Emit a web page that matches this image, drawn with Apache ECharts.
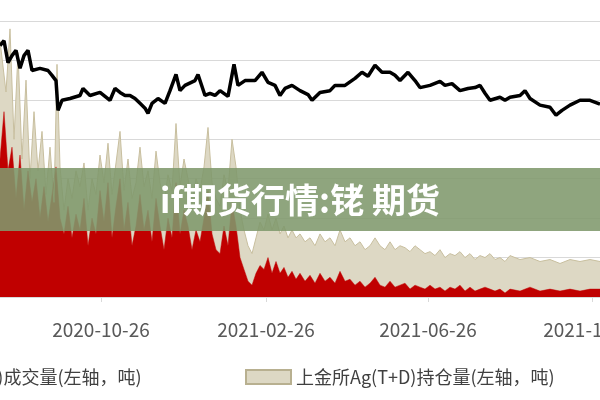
<!DOCTYPE html>
<html>
<head>
<meta charset="UTF-8">
<title>if期货行情</title>
<script src="https://cdn.jsdelivr.net/npm/echarts@6/dist/echarts.min.js"></script>
<style>html,body{margin:0;padding:0;background:#fff;}#main{width:600px;height:400px;}</style>
</head>
<body>
<div id="main"></div>
<script type="text/javascript">
// x = 交易日位置, 刻度标签
var tickPos = [101, 266, 428, 592];
var tickLabels = ['2020-10-26', '2021-02-26', '2021-06-26', '2021-10-26'];

// 持仓量 (吨)
var holdX = [0,6,10,14,18,22,26,30,34,38,42,46,50,54,57,60,64,68,72,76,80,84,88,92,96,100,104,108,112,116,120,124,128,132,136,140,144,148,152,156,160,164,168,172,176,180,184,188,192,196,200,204,208,212,216,220,224,228,232,236,240,244,248,252,256,260,264,268,272,276,280,284,288,292,296,300,305,310,315,320,325,330,335,340,345,350,355,360,365,370,375,380,385,390,395,400,405,410,415,420,425,430,435,440,445,450,455,460,465,470,475,480,485,490,495,500,505,510,520,530,540,550,560,570,580,590,600];
var holdV = [6500,5200,6800,4000,6200,3500,5500,3000,4700,3200,4200,2600,3800,2400,5900,3300,2200,3000,2500,3200,2800,3400,2200,3000,2600,3600,2900,3900,2600,3400,4200,2700,3500,2500,2900,3800,2800,3200,2500,3700,2900,2400,3100,2700,4400,2800,3500,3000,2400,3000,2700,3300,4300,2900,2500,2300,3100,2700,4000,3300,2200,1700,1300,1100,1500,1900,1700,2100,1700,2000,1600,1800,1500,1700,1500,1600,1400,1500,1300,1600,1400,1500,1300,1700,1400,1500,1300,1400,1200,1300,1500,1300,1200,1400,1200,1300,1250,1150,1300,1200,1100,1150,1050,1200,1000,1100,1050,1150,1000,1100,950,1050,1000,1100,950,1000,900,1050,950,1000,900,950,850,950,900,950,900];

// 成交量 (吨)
var volX = [0,4,8,12,16,20,24,28,32,36,40,44,48,52,56,60,64,68,72,76,80,84,88,92,96,100,104,108,112,116,120,124,128,132,136,140,144,148,152,156,160,164,168,172,176,180,184,188,192,196,200,204,208,212,216,220,224,228,232,236,240,244,248,252,256,260,264,268,272,276,280,284,288,292,296,300,305,310,315,320,325,330,335,340,345,350,355,360,365,370,375,380,385,390,395,400,405,410,415,420,425,430,435,440,445,450,455,460,465,470,475,480,485,490,495,500,505,510,520,530,540,550,560,570,580,590,600];
var volV = [3500,4700,3200,3800,2500,3600,2200,3200,2400,3000,2000,2800,1900,2600,3300,2000,1600,2300,1500,2100,1700,2500,1300,2000,1600,2700,1900,2900,1500,2300,3000,1700,2400,1300,1800,2600,1700,2200,1400,2500,1800,1200,2000,1500,2900,1600,2200,1800,1200,1700,1400,2000,2700,1600,1200,1100,1800,1300,2400,1800,1000,700,400,300,600,800,700,1000,600,900,600,750,500,650,450,600,400,550,350,600,400,500,350,650,400,450,300,400,250,350,500,300,250,400,250,300,350,200,300,250,200,300,200,250,150,250,200,300,150,250,150,200,250,200,150,200,100,200,150,250,150,200,150,200,150,200,200];

// Ag(T+D) 收盘价 (元/千克, 右轴)
var priceX = [0,4,8,12,16,20,24,28,32,40,48,52,56,58,62,70,80,83,90,100,105,110,115,120,125,130,135,140,145,148,152,158,165,170,176,180,185,195,198,205,210,215,220,228,234,238,245,255,262,268,275,280,285,292,300,308,312,320,330,335,345,355,362,368,375,382,390,395,400,408,415,420,430,440,445,452,460,468,475,480,485,490,500,505,510,520,525,530,540,550,556,562,570,580,590,600];
var priceV = [6940,7050,6550,6710,6830,6420,6710,6830,6370,6420,6370,6260,6140,5460,5690,5730,5800,5960,5800,5870,5780,5690,5960,5870,5800,5800,5730,5620,5510,5390,5620,5730,5620,5910,6280,5910,6030,6140,6280,5800,5850,5800,5910,5780,6510,6030,6140,6140,6330,6100,6030,5800,5960,6030,5910,5820,5690,5870,5910,6030,6030,6190,6330,6240,6490,6330,6330,6260,6140,6330,6140,5980,6030,6120,6030,6070,5910,5960,5980,6030,5850,5690,5760,5690,5760,5800,5910,5730,5580,5530,5350,5460,5580,5690,5690,5600];

function pairs(xs, vs) {
    var out = [];
    for (var i = 0; i < xs.length; i++) out.push([xs[i], vs[i]]);
    return out;
}

var chart = echarts.init(document.getElementById('main'));
var option = {
    animation: false,
    textStyle: {fontFamily: 'Noto Sans CJK SC'},
    grid: {left: 0, right: 0, top: 21, bottom: 103, containLabel: false, outerBoundsMode: 'none'},
    legend: [
        {left: -172, top: 363, icon: 'rect', itemWidth: 45, itemHeight: 14, itemGap: 6,
         textStyle: {fontSize: 18, color: '#404040'}, data: ['上金所Ag(T+D)成交量(左轴，吨)']},
        {left: 240, top: 363, icon: 'rect', itemWidth: 45, itemHeight: 14, itemGap: 6,
         textStyle: {fontSize: 18, color: '#404040'}, data: ['上金所Ag(T+D)持仓量(左轴，吨)']}
    ],
    xAxis: {
        type: 'value', min: 0, max: 600,
        axisLine: {lineStyle: {color: '#d9d9d9'}},
        axisTick: {show: true, customValues: tickPos, length: 5, lineStyle: {color: '#d9d9d9'}},
        axisLabel: {
            customValues: tickPos, fontSize: 19, color: '#595959', margin: 23, hideOverlap: false,
            formatter: function (v) { return tickLabels[tickPos.indexOf(v)]; }
        },
        splitLine: {show: false}
    },
    yAxis: [
        {type: 'value', min: 0, max: 7000, interval: 1000, axisLabel: {show: false},
         axisLine: {show: false}, axisTick: {show: false},
         splitLine: {lineStyle: {color: '#d9d9d9'}}},
        {type: 'value', min: 1200, max: 7500, axisLabel: {show: false},
         axisLine: {show: false}, axisTick: {show: false}, splitLine: {show: false}}
    ],
    series: [
        {name: '上金所Ag(T+D)持仓量(左轴，吨)', type: 'line', data: pairs(holdX, holdV),
         symbol: 'none', lineStyle: {width: 1, color: '#c8bf9f'}, itemStyle: {color: '#ddd8c4', borderColor: '#b8b090', borderWidth: 1},
         areaStyle: {color: '#ddd8c4', opacity: 1}},
        {name: '上金所Ag(T+D)成交量(左轴，吨)', type: 'line', data: pairs(volX, volV),
         symbol: 'none', lineStyle: {width: 0.5, color: '#c00000'}, itemStyle: {color: '#c00000'},
         areaStyle: {color: '#c00000', opacity: 1}},
        {name: 'Ag(T+D)收盘价', type: 'line', yAxisIndex: 1, data: pairs(priceX, priceV),
         symbol: 'none', lineStyle: {width: 3.5, color: '#000'}, z: 5}
    ],
    graphic: [
        {type: 'rect', left: 0, top: 168, z: 100, shape: {width: 600, height: 63},
         style: {fill: 'rgba(128,152,108,0.88)'}},
        {type: 'text', left: 'center', top: 183, z: 101,
         style: {text: 'if期货行情:铑 期货', fill: '#fff', font: 'bold 34px "Noto Sans CJK SC"'}}
    ]
};
chart.setOption(option);
</script>
</body>
</html>
